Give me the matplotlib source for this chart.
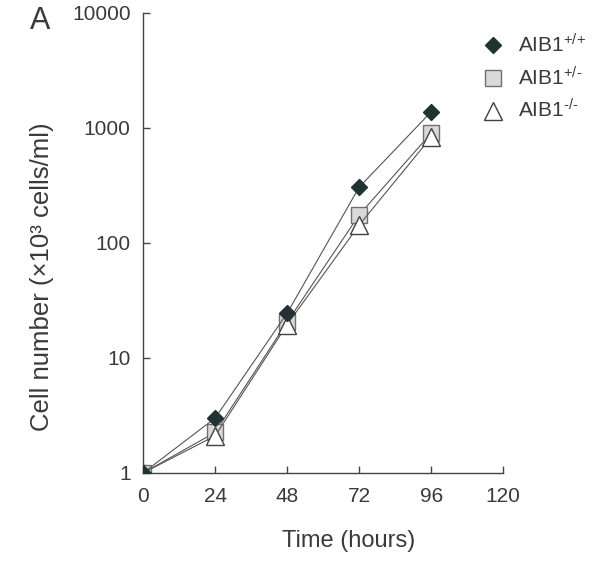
import matplotlib.pyplot as plt
import matplotlib.ticker as mticker

plt.rcParams['font.family'] = ['Liberation Sans', 'DejaVu Sans']
plt.rcParams['mathtext.fontset'] = 'custom'
plt.rcParams['mathtext.rm'] = 'Liberation Sans'
plt.rcParams['mathtext.it'] = 'Liberation Sans:italic'

hours = [0, 24, 48, 72, 96]
wt = [1.0, 3.0, 24.5, 305, 1380]
het = [1.0, 2.25, 20.5, 175, 900]
ko = [1.0, 2.1, 19.5, 143, 830]
labels = [r'AIB1$^{\text{+/+}}$', r'AIB1$^{\text{+/-}}$', r'AIB1$^{\text{-/-}}$']
xticks = [0, 24, 48, 72, 96, 120]
yticks = [1, 10, 100, 1000, 10000]

fig = plt.figure(figsize=(5.94, 5.63), dpi=100)
ax = fig.add_axes([0.241, 0.160, 0.606, 0.817])

line_kw = dict(color='#555555', lw=0.8)
ax.plot(hours, ko, marker='^', ms=13, mfc='white', mec='#404040', mew=1.0, zorder=3, label=labels[2], **line_kw)
ax.plot(hours, het, marker='s', ms=12, mfc='#d9d9d9', mec='#707070', mew=1.0, zorder=2, label=labels[1], **line_kw)
ax.plot(hours, wt, marker='D', ms=8, mfc='#223333', mec='#223333', zorder=4, label=labels[0], **line_kw)

ax.set_yscale('log')
ax.set_xlim(0, 120)
ax.set_ylim(1, 10000)
ax.set_xticks(xticks)
ax.set_yticks(yticks)
ax.yaxis.set_major_formatter(mticker.FuncFormatter(lambda v, p: f'{int(v)}'))
ax.yaxis.set_minor_locator(mticker.NullLocator())

for s in ['top', 'right']:
    ax.spines[s].set_visible(False)
for s in ['left', 'bottom']:
    ax.spines[s].set_color('#444444')
    ax.spines[s].set_linewidth(1.0)
ax.tick_params(direction='in', length=5, width=1.0, color='#444444',
               labelsize=15, labelcolor='#3a3a3a')
ax.tick_params(axis='x', pad=10)
ax.tick_params(axis='y', pad=9)

ax.set_xlabel('Time (hours)', fontsize=17, color='#3a3a3a')
ax.xaxis.set_label_coords(0.57, -0.124)
ax.set_ylabel('Cell number (\u00d710\u00b3 cells/ml)', fontsize=18.5, color='#3a3a3a')
ax.yaxis.set_label_coords(-0.248, 0.426)

h, l = ax.get_legend_handles_labels()
order = [2, 1, 0]
leg = ax.legend([h[i] for i in order], [l[i] for i in order], loc='upper left',
                bbox_to_anchor=(0.897, 0.987), frameon=False, fontsize=15,
                handlelength=1.2, handletextpad=0.6, labelspacing=0.45,
                borderaxespad=0.3)
for t in leg.get_texts():
    t.set_color('#3a3a3a')
for lh in leg.legend_handles:
    lh.set_linestyle('none')

fig.text(0.067, 0.962, 'A', fontsize=22, color='#3a3a3a', ha='center', va='center')

fig.savefig('out.png', dpi=100)
